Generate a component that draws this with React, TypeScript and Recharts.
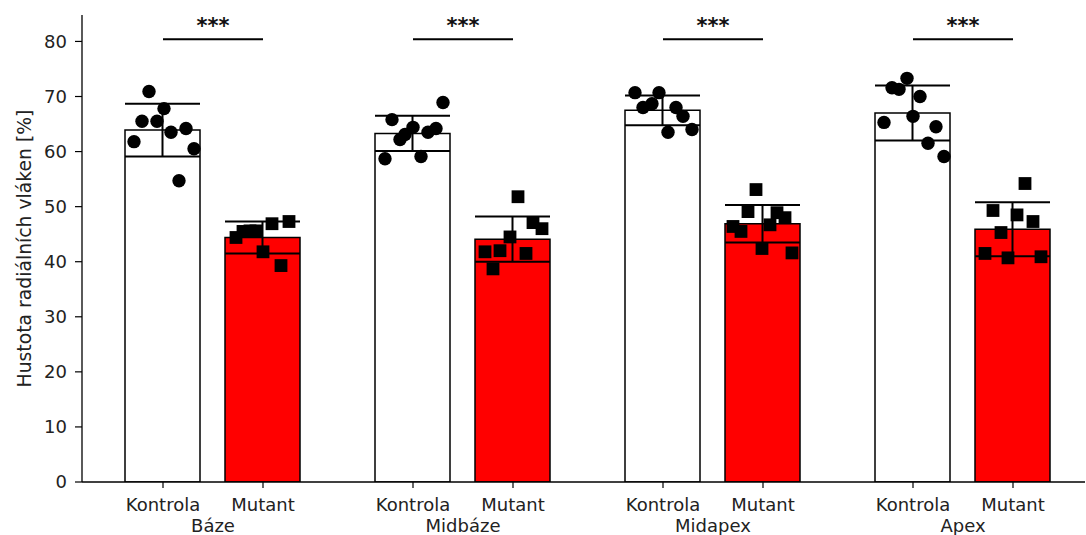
import { ComposedChart, Bar, Cell, ErrorBar, Scatter, XAxis, YAxis, ReferenceLine, Label } from 'recharts';

const groups = ['Báze', 'Midbáze', 'Midapex', 'Apex'];
const conditions = ['Kontrola', 'Mutant'];
const positions = [0, 1, 2.5, 3.5, 5, 6, 7.5, 8.5];
const means = [63.9, 44.4, 63.3, 44.1, 67.5, 46.9, 67.0, 45.9];
const sds = [4.8, 2.9, 3.2, 4.1, 2.7, 3.4, 5.0, 4.9];
const yTicks = [0, 10, 20, 30, 40, 50, 60, 70, 80];

// individual measurements per bar (same order as positions)
const pointValues = [
  [70.9, 67.8, 65.5, 65.5, 63.5, 64.2, 61.8, 60.5, 54.7],
  [44.4, 45.5, 45.6, 45.6, 46.9, 47.3, 41.8, 39.3],
  [68.9, 65.8, 64.4, 63.1, 62.2, 63.5, 64.2, 58.7, 59.1],
  [51.8, 47.1, 46.0, 44.5, 41.8, 42.0, 41.5, 38.7],
  [70.7, 70.7, 68.0, 68.7, 68.0, 66.4, 63.5, 64.0],
  [53.1, 49.1, 48.9, 48.0, 46.4, 45.5, 46.7, 42.4, 41.6],
  [73.3, 71.6, 71.3, 70.0, 66.4, 65.3, 64.5, 61.5, 59.1],
  [54.2, 49.3, 48.5, 47.3, 45.3, 41.5, 40.7, 40.9],
];
// horizontal jitter of each measurement, in x-axis units
const pointJitter = [
  [-0.14, 0.01, -0.21, -0.06, 0.08, 0.23, -0.29, 0.31, 0.16],
  [-0.27, -0.2, -0.13, -0.07, 0.09, 0.26, 0.0, 0.18],
  [0.3, -0.21, 0.0, -0.08, -0.13, 0.15, 0.23, -0.28, 0.08],
  [0.05, 0.2, 0.29, -0.03, -0.28, -0.13, 0.13, -0.2],
  [-0.28, -0.04, -0.2, -0.11, 0.13, 0.2, 0.05, 0.29],
  [-0.07, -0.15, 0.14, 0.22, -0.3, -0.22, 0.07, -0.01, 0.29],
  [-0.06, -0.21, -0.14, 0.07, 0.0, -0.29, 0.23, 0.15, 0.31],
  [0.12, -0.2, 0.04, 0.2, -0.12, -0.28, -0.05, 0.28],
];
const significance = ['***', '***', '***', '***'];
const sigLevel = 80.4;

const FONT = '"DejaVu Sans", sans-serif';
const TEXT = '#222';
const X_DOMAIN: [number, number] = [-0.81, 9.22];

const barData = positions.map((x, i) => ({ x, mean: means[i], sd: sds[i] }));

const pointsFor = (even: boolean) =>
  pointValues.flatMap((vals, i) =>
    i % 2 === (even ? 0 : 1) ? vals.map((y, j) => ({ x: positions[i] + pointJitter[i][j], y })) : []
  );
const kontrolaPoints = pointsFor(true);
const mutantPoints = pointsFor(false);

const Dot = (props: any) => <circle cx={props.cx} cy={props.cy} r={6.7} fill="#000" />;
const SquareDot = (props: any) => (
  <rect x={props.cx - 6.4} y={props.cy - 6.4} width={12.8} height={12.8} fill="#000" />
);

function GroupTick(props: any) {
  const { x, y, payload } = props;
  const idx = positions.indexOf(payload.value);
  return (
    <g>
      <text x={x} y={y} dy={20.5} textAnchor="middle" fill={TEXT} fontSize={18} fontFamily={FONT}>
        {conditions[idx % 2]}
      </text>
      {idx % 2 === 0 && (
        <text x={x + 50} y={y} dy={42} textAnchor="middle" fill={TEXT} fontSize={18} fontFamily={FONT}>
          {groups[idx / 2]}
        </text>
      )}
    </g>
  );
}

export default function App() {
  return (
    <div style={{ position: 'absolute', left: 0, top: 0, background: '#fff' }}>
      <ComposedChart
        width={1086}
        height={535}
        data={barData}
        margin={{ top: 15, right: 1, bottom: 0, left: 0 }}
      >
        <XAxis
          xAxisId="bars"
          type="number"
          dataKey="x"
          domain={X_DOMAIN}
          ticks={positions}
          interval={0}
          allowDataOverflow
          height={53}
          tickSize={6}
          tick={<GroupTick />}
          tickLine={{ stroke: '#000', strokeWidth: 1.2 }}
          axisLine={{ stroke: '#000', strokeWidth: 1.3 }}
        />
        <XAxis xAxisId="pts" type="number" dataKey="x" domain={X_DOMAIN} allowDataOverflow hide height={53} />
        <YAxis
          type="number"
          domain={[0, 84.8]}
          ticks={yTicks}
          allowDataOverflow
          width={82}
          tickSize={7}
          tickMargin={8}
          tick={{ fill: TEXT, fontSize: 18, fontFamily: FONT }}
          tickLine={{ stroke: '#000', strokeWidth: 1.2 }}
          axisLine={{ stroke: '#000', strokeWidth: 1.3 }}
        >
          <Label
            value="Hustota radiálních vláken [%]"
            angle={-90}
            position="center"
            dx={-17}
            fill={TEXT}
            fontSize={18.8}
            fontFamily={FONT}
          />
        </YAxis>
        <Bar xAxisId="bars" dataKey="mean" barSize={75} stroke="#000" strokeWidth={1.5} isAnimationActive={false}>
          {barData.map((d, i) => (
            <Cell key={`cell-${i}`} fill={i % 2 === 0 ? '#ffffff' : '#ff0000'} />
          ))}
          <ErrorBar dataKey="sd" width={37.5} stroke="#000" strokeWidth={2} direction="y" />
        </Bar>
        <Scatter xAxisId="pts" data={kontrolaPoints} dataKey="y" shape={Dot} isAnimationActive={false} />
        <Scatter xAxisId="pts" data={mutantPoints} dataKey="y" shape={SquareDot} isAnimationActive={false} />
        {groups.map((g, i) => (
          <ReferenceLine
            key={g}
            xAxisId="bars"
            segment={[
              { x: positions[i * 2], y: sigLevel },
              { x: positions[i * 2 + 1], y: sigLevel },
            ]}
            stroke="#000"
            strokeWidth={2.2}
            label={{
              value: significance[i],
              position: 'top',
              offset: 6.5,
              fill: '#111',
              fontSize: 21,
              fontWeight: 'bold',
              fontFamily: FONT,
            }}
          />
        ))}
      </ComposedChart>
    </div>
  );
}
